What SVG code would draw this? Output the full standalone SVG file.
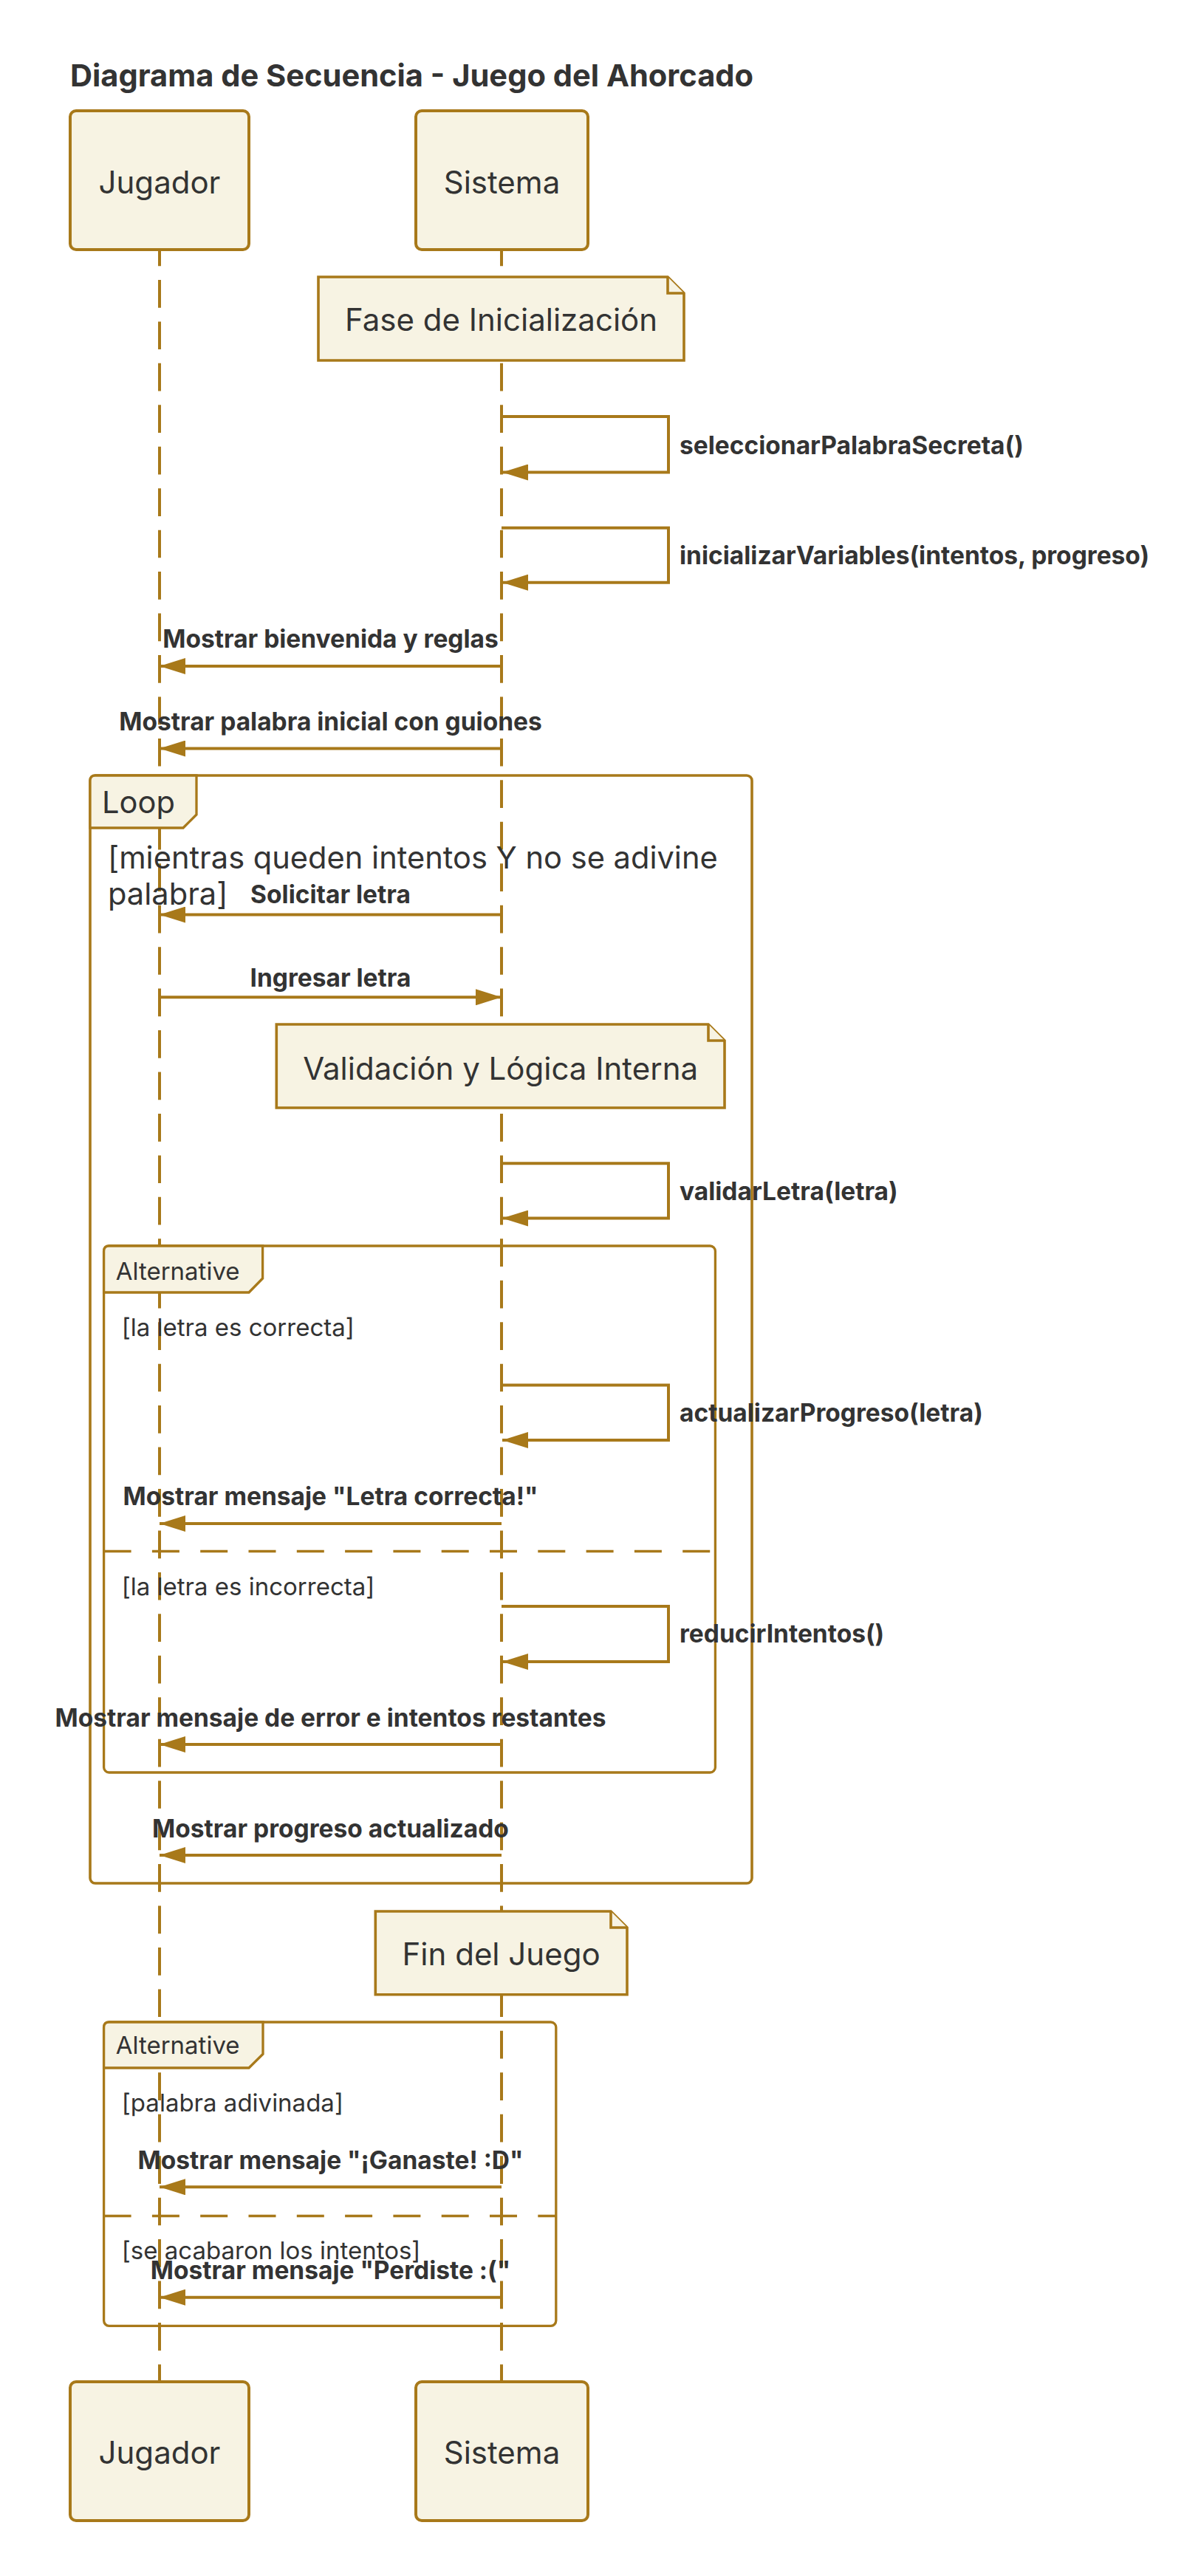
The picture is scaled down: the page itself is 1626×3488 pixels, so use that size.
<svg xmlns="http://www.w3.org/2000/svg" width="1626" height="3488" viewBox="0 0 1626 3488">
<defs>
<style>
text{font-family:Inter,"Liberation Sans",sans-serif;fill:#333333}
.title{font-size:41.6px;font-weight:700}
.actor rect{fill:#f7f3e3;stroke:#a8791a;stroke-width:4}
.actor text{font-size:42px;text-anchor:middle}
.life{stroke:#a8791a;stroke-width:4;stroke-dasharray:37.7 18.75;fill:none}
.note path{fill:#f7f3e3;stroke:#a8791a;stroke-width:3.6}
.note text{font-size:42px;text-anchor:middle}
.frame{fill:none;stroke:#a8791a;stroke-width:3.6}
.tab{fill:#f7f3e3;stroke:#a8791a;stroke-width:3.3}
.div{stroke:#a8791a;stroke-width:3.3;stroke-dasharray:37 28.3;fill:none}
.big{font-size:41.6px}
.small{font-size:33px}
.msg{stroke:#a8791a;stroke-width:4;fill:none;marker-end:url(#ah)}
.lbl{font-size:33.5px;font-weight:700;text-anchor:middle}
.slbl{font-size:33.5px;font-weight:700}
</style>
<marker id="ah" markerUnits="userSpaceOnUse" markerWidth="35" markerHeight="22" refX="35" refY="11" orient="auto">
<path d="M0,0 L35,11 L0,22 z" fill="#a8791a"/>
</marker>
</defs>
<rect width="1626" height="3488" fill="#ffffff"/>
<text class="title" x="95" y="116.5">Diagrama de Secuencia - Juego del Ahorcado</text>

<g id="lifelines">
<line class="life" x1="216" y1="322.5" x2="216" y2="3225"/>
<line class="life" x1="679" y1="322.5" x2="679" y2="3225"/>
</g>

<g id="loop1">
<rect class="frame" x="122" y="1050" width="896" height="1500" rx="7"/>
<path class="tab" d="M122,1057 Q122,1050 129,1050 H266 V1103 L248,1121 H122 Z"/>
<text class="big" x="138" y="1101">Loop</text>
<text class="big" x="146" y="1176">[mientras queden intentos Y no se adivine</text>
<text class="big" x="146" y="1225">palabra]</text>
</g>

<g id="alt1">
<rect class="frame" x="140.6" y="1687" width="827.8" height="713" rx="7" style="stroke-width:3.3"/>
<path class="tab" d="M140.6,1694 Q140.6,1687 147.6,1687 H355.6 V1731 L337,1750 H140.6 Z"/>
<text class="small" x="156.7" y="1732.7">Alternative</text>
<text class="small" x="164.7" y="1809">[la letra es correcta]</text>
<line class="div" x1="140.6" y1="2100.5" x2="968.4" y2="2100.5"/>
<text class="small" x="164.7" y="2159.6">[la letra es incorrecta]</text>
</g>

<g id="alt2">
<rect class="frame" x="140.6" y="2738" width="612.2" height="411.3" rx="7" style="stroke-width:3.3"/>
<path class="tab" d="M140.6,2745 Q140.6,2738 147.6,2738 H356 V2781.3 L337,2800 H140.6 Z"/>
<text class="small" x="156.7" y="2781.3">Alternative</text>
<text class="small" x="164.8" y="2859">[palabra adivinada]</text>
<line class="div" x1="140.6" y1="3000.5" x2="752.8" y2="3000.5"/>
<text class="small" x="164.8" y="3059">[se acabaron los intentos]</text>
</g>

<g id="note-fase" class="note">
<path d="M431,375 H904 L926,397 V488 H431 Z"/>
<path d="M904,375 V397 H926"/>
<text x="678.5" y="448">Fase de Inicialización</text>
</g>
<g id="note-validacion" class="note">
<path d="M374.3,1387 H959 L981,1409 V1500 H374.3 Z"/>
<path d="M959,1387 V1409 H981"/>
<text x="677.6" y="1461.5">Validación y Lógica Interna</text>
</g>
<g id="note-fin" class="note">
<path d="M508.3,2588 H827 L849,2610 V2700.7 H508.3 Z"/>
<path d="M827,2588 V2610 H849"/>
<text x="678.6" y="2660.6">Fin del Juego</text>
</g>

<g id="connectors">
<path class="msg" d="M679,564 H905 V639.5 H680"/>
<path class="msg" d="M679,714.7 H905 V788.7 H680"/>
<line class="msg" x1="679" y1="902" x2="216" y2="902"/>
<line class="msg" x1="679" y1="1013.5" x2="216" y2="1013.5"/>
<line class="msg" x1="679" y1="1238.5" x2="216" y2="1238.5"/>
<line class="msg" x1="216" y1="1350.3" x2="679" y2="1350.3"/>
<path class="msg" d="M679,1575.3 H905 V1649.6 H680"/>
<path class="msg" d="M679,1875.5 H905 V1950 H680"/>
<line class="msg" x1="679" y1="2063" x2="216" y2="2063"/>
<path class="msg" d="M679,2175 H905 V2250 H680"/>
<line class="msg" x1="679" y1="2362" x2="216" y2="2362"/>
<line class="msg" x1="679" y1="2512" x2="216" y2="2512"/>
<line class="msg" x1="679" y1="2961.3" x2="216" y2="2961.3"/>
<line class="msg" x1="679" y1="3110.7" x2="216" y2="3110.7"/>
</g>

<g id="labels">
<text class="slbl" x="920" y="615">seleccionarPalabraSecreta()</text>
<text class="slbl" x="920" y="764">inicializarVariables(intentos, progreso)</text>
<text class="lbl" x="447.5" y="877">Mostrar bienvenida y reglas</text>
<text class="lbl" x="447.5" y="989">Mostrar palabra inicial con guiones</text>
<text class="lbl" x="447.5" y="1223">Solicitar letra</text>
<text class="lbl" x="447.5" y="1335.5">Ingresar letra</text>
<text class="slbl" x="920" y="1624.6">validarLetra(letra)</text>
<text class="slbl" x="920" y="1925">actualizarProgreso(letra)</text>
<text class="lbl" x="447.5" y="2037.7">Mostrar mensaje "Letra correcta!"</text>
<text class="slbl" x="920" y="2224">reducirIntentos()</text>
<text class="lbl" x="447.5" y="2337.8">Mostrar mensaje de error e intentos restantes</text>
<text class="lbl" x="447.5" y="2487.8">Mostrar progreso actualizado</text>
<text class="lbl" x="447.5" y="2936.5">Mostrar mensaje "¡Ganaste! :D"</text>
<text class="lbl" x="447.5" y="3086">Mostrar mensaje "Perdiste :("</text>
</g>

<g id="actor-jugador-top" class="actor">
<rect x="95" y="150" width="242" height="188" rx="8"/>
<text x="216" y="262">Jugador</text>
</g>
<g id="actor-sistema-top" class="actor">
<rect x="563" y="150" width="233" height="188" rx="8"/>
<text x="679.5" y="262">Sistema</text>
</g>
<g id="actor-jugador-bottom" class="actor">
<rect x="95" y="3225" width="242" height="188" rx="8"/>
<text x="216" y="3335.7">Jugador</text>
</g>
<g id="actor-sistema-bottom" class="actor">
<rect x="563" y="3225" width="233" height="188" rx="8"/>
<text x="679.5" y="3335.7">Sistema</text>
</g>
</svg>
